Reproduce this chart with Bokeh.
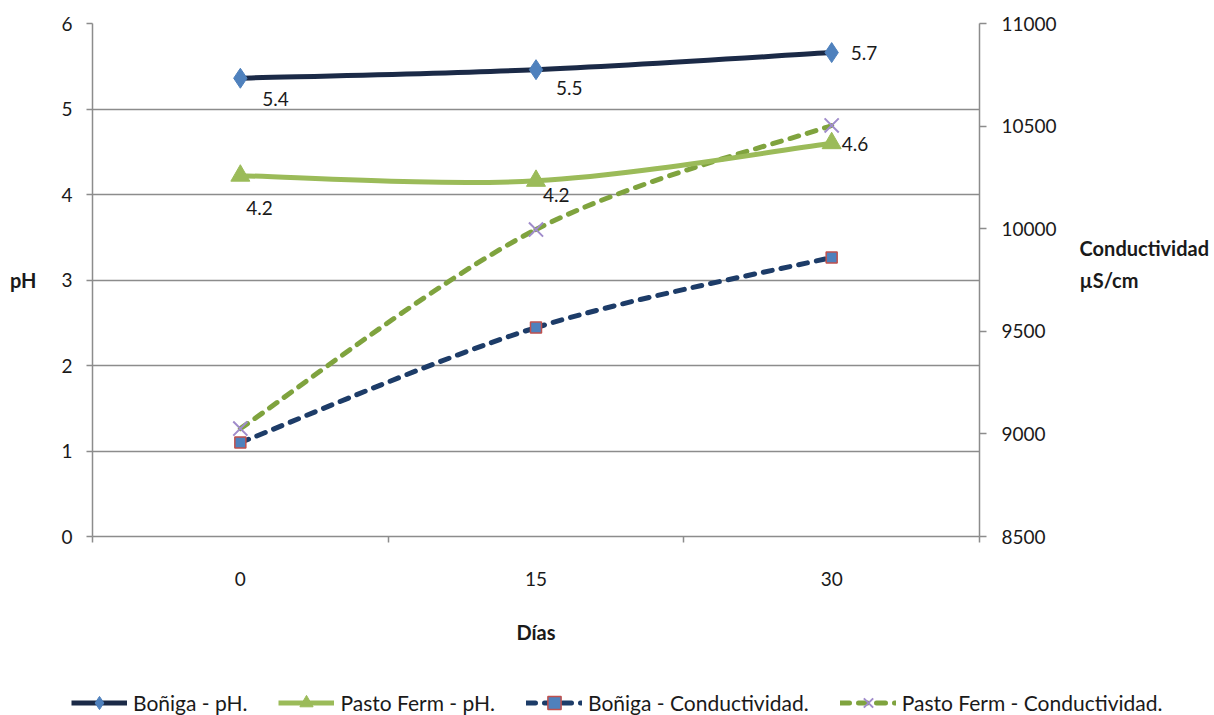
from bokeh.plotting import figure
from bokeh.layouts import column
from bokeh.models import (Range1d, LinearAxis, FixedTicker, Legend, LegendItem,
                          ColumnDataSource)
from bokeh.embed import file_html
from bokeh.resources import INLINE

# Sampling days
dias = [0, 15, 30]

# pH series
ph_bonniga = [5.36, 5.46, 5.66]
ph_pasto = [4.22, 4.16, 4.60]

# Conductivity series (µS/cm)
cond_bonniga = [8958, 9518, 9860]
cond_pasto = [9026, 9996, 10503]

ph_ticks = [0, 1, 2, 3, 4, 5, 6]
cond_ticks = [8500, 9000, 9500, 10000, 10500, 11000]

series_names = ["Boñiga - pH.", "Pasto Ferm - pH.",
                "Boñiga - Conductividad.", "Pasto Ferm - Conductividad."]

FONT = "Lato"
FSIZE = "19px"
TXT = "#1a1a1a"
GRID = "#8c8c8c"

# Line and marker styles per series
BON_PH = dict(line=dict(line_color="#1b2a47", line_width=5),
              mark=dict(marker="diamond", size=20, fill_color="#4f81bd",
                        line_color="#4f81bd"))
PAS_PH = dict(line=dict(line_color="#9bbb59", line_width=5),
              mark=dict(marker="triangle", size=19, fill_color="#9bbb59",
                        line_color="#9bbb59"))
BON_CO = dict(line=dict(line_color="#1d3c68", line_width=5, line_dash="9 9",
                        line_cap="round"),
              mark=dict(marker="square", size=11, fill_color="#4f81bd",
                        line_color="#c0504d", line_width=1.5))
PAS_CO = dict(line=dict(line_color="#7fa33e", line_width=5, line_dash="9 9",
                        line_cap="round"),
              mark=dict(marker="x", size=20, line_color="#a08ccb", line_width=2))


def smooth_segments(xs, ys):
    """Catmull-Rom style cubic Bezier pieces through the given points."""
    n = len(xs)
    out = dict(x0=[], y0=[], x1=[], y1=[], cx0=[], cy0=[], cx1=[], cy1=[])
    for i in range(n - 1):
        ip = max(i - 1, 0)
        inn = min(i + 2, n - 1)
        out["x0"].append(xs[i]); out["y0"].append(ys[i])
        out["x1"].append(xs[i + 1]); out["y1"].append(ys[i + 1])
        out["cx0"].append(xs[i] + (xs[i + 1] - xs[ip]) / 6.0)
        out["cy0"].append(ys[i] + (ys[i + 1] - ys[ip]) / 6.0)
        out["cx1"].append(xs[i + 1] - (xs[inn] - xs[i]) / 6.0)
        out["cy1"].append(ys[i + 1] - (ys[inn] - ys[i]) / 6.0)
    return ColumnDataSource(out)


def curve(fig, xs, ys, style, **kw):
    fig.bezier(x0="x0", y0="y0", x1="x1", y1="y1", cx0="cx0", cy0="cy0",
               cx1="cx1", cy1="cy1", source=smooth_segments(xs, ys),
               **style["line"], **kw)
    fig.scatter(xs, ys, **style["mark"], **kw)


p = figure(width=1214, height=680, output_backend="svg", toolbar_location=None,
           x_range=Range1d(-7.5, 37.5), y_range=Range1d(0, 6),
           min_border_left=92, min_border_right=235, min_border_top=23,
           min_border_bottom=144)
p.frame_align = False
p.extra_y_ranges = {"cond": Range1d(cond_ticks[0], cond_ticks[-1])}
p.outline_line_color = None
p.background_fill_color = "white"
p.border_fill_color = "white"

# Horizontal gridlines only
p.xgrid.visible = False
p.ygrid.ticker = FixedTicker(ticks=ph_ticks)
p.ygrid.grid_line_color = GRID
p.ygrid.grid_line_width = 1.5

title_font = dict(axis_label_text_font=FONT, axis_label_text_font_size="20px",
                  axis_label_text_font_style="bold", axis_label_text_color=TXT)
tick_font = dict(major_label_text_font=FONT, major_label_text_font_size=FSIZE,
                 major_label_text_color=TXT)

# Bottom axis: labels at the days, tick marks between them
xa = p.xaxis[0]
xa.ticker = FixedTicker(ticks=dias, minor_ticks=[-7.5, 7.5, 22.5, 37.5])
xa.major_tick_line_color = None
xa.minor_tick_out = 6
xa.minor_tick_in = 0
xa.minor_tick_line_color = GRID
xa.minor_tick_line_width = 1.5
xa.axis_line_color = GRID
xa.axis_line_width = 1.5
xa.major_label_standoff = 29
xa.axis_label = "Días"
xa.axis_label_standoff = 31
for k, v in {**title_font, **tick_font}.items():
    setattr(xa, k, v)

# Left pH axis
ya = p.yaxis[0]
ya.ticker = FixedTicker(ticks=ph_ticks)
ya.minor_tick_line_color = None
ya.major_tick_out = 6
ya.major_tick_in = 0
ya.major_tick_line_color = GRID
ya.major_tick_line_width = 1.5
ya.axis_line_color = GRID
ya.axis_line_width = 1.5
ya.major_label_standoff = 14
ya.axis_label = "pH"
ya.axis_label_orientation = "horizontal"
ya.axis_label_standoff = 22
for k, v in {**title_font, **tick_font}.items():
    setattr(ya, k, v)

# Right conductivity axis
ra = LinearAxis(y_range_name="cond", ticker=FixedTicker(ticks=cond_ticks))
ra.minor_tick_line_color = None
ra.major_tick_out = 7
ra.major_tick_in = 0
ra.major_tick_line_color = GRID
ra.major_tick_line_width = 1.5
ra.axis_line_color = GRID
ra.axis_line_width = 1.5
ra.major_label_standoff = 15
ra.axis_label = "Conductividad\nµS/cm\n "
ra.axis_label_orientation = "horizontal"
ra.axis_label_standoff = 20
ra.axis_label_text_line_height = 1.35
ra.axis_label_text_align = "center"
for k, v in {**title_font, **tick_font}.items():
    setattr(ra, k, v)
p.add_layout(ra, "right")

# Conductivity curves on the secondary axis, then pH curves
curve(p, dias, cond_bonniga, BON_CO, y_range_name="cond")
curve(p, dias, cond_pasto, PAS_CO, y_range_name="cond")
curve(p, dias, ph_bonniga, BON_PH)
curve(p, dias, ph_pasto, PAS_PH)

# Value labels on the pH points
bon_dx = [22, 20, 19]
bon_dy = [21, 18, 0]
pas_dx = [6, 7, 10]
pas_dy = [32, 14, 1]
for vals, dx, dy in ((ph_bonniga, bon_dx, bon_dy), (ph_pasto, pas_dx, pas_dy)):
    p.text(x=dias, y=vals, text=[f"{v:.1f}" for v in vals],
           x_offset=dx, y_offset=dy, text_align="left", text_baseline="middle",
           text_font={"value": FONT}, text_font_size=FSIZE, text_color=TXT)

# Legend strip underneath the chart (swatch renderers hold no visible points)
lg = figure(width=1214, height=35, output_backend="svg", toolbar_location=None,
            x_range=Range1d(0, 1), y_range=Range1d(0, 1),
            min_border=0, min_border_left=0, min_border_right=0,
            min_border_top=0, min_border_bottom=0)
lg.frame_align = False
lg.axis.visible = False
lg.grid.visible = False
lg.outline_line_color = None
lg.border_fill_color = "white"

nan = float("nan")
items = []
for name, style in zip(series_names, (BON_PH, PAS_PH, BON_CO, PAS_CO)):
    r_line = lg.line(x=[nan], y=[nan], **style["line"])
    r_mark = lg.scatter(x=[nan], y=[nan], **style["mark"])
    items.append(LegendItem(label=name, renderers=[r_line, r_mark]))

legend = Legend(items=items, orientation="horizontal", location=(71, -4))
legend.border_line_color = None
legend.background_fill_alpha = 0
legend.padding = 0
legend.margin = 0
legend.spacing = 31
legend.glyph_width = 56
legend.glyph_height = 33
legend.label_standoff = 6
legend.label_text_font = FONT
legend.label_text_font_size = "21px"
legend.label_text_color = TXT
lg.add_layout(legend, "center")

page = column(p, lg, spacing=0)
open("out.html", "w").write(file_html(page, INLINE))
